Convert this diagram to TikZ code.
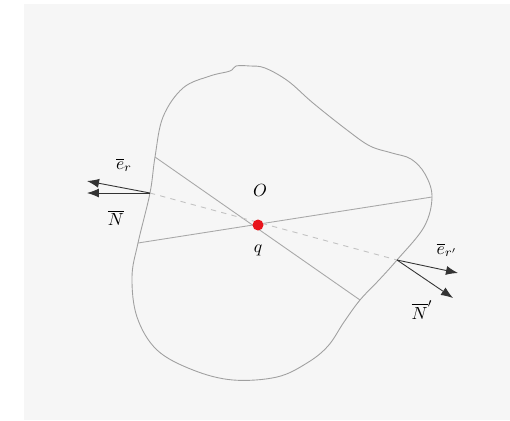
\documentclass[tikz,border=0pt]{standalone}
\usepackage{xcolor}
\usepackage{tikz}
\usetikzlibrary{arrows.meta,positioning}
\definecolor{bgray}{HTML}{F6F6F6}
\definecolor{edge}{HTML}{A0A0A0}
\definecolor{chord}{HTML}{A8A8A8}
\definecolor{vecc}{HTML}{333333}
\definecolor{charge}{HTML}{E8141B}

\begin{document}
\begin{tikzpicture}[
  x=0.02cm, y=-0.02cm,
  every node/.style={font=\normalsize},
  outline/.style={draw=edge, line width=0.5pt},
  chordline/.style={draw=chord, line width=0.5pt},
  dashline/.style={draw=chord!70, dashed, line width=0.5pt},
  vec/.style={-{Latex[length=2.4mm,width=1.8mm]}, vecc, line width=0.5pt},
  lab/.style={inner sep=1pt}
]
\useasboundingbox (0,0) rectangle (510,420);
\fill[bgray] (24,4) rectangle (510,420);

% ---- Points on the boundary ----
\coordinate (L1) at (155,157);
\coordinate (L2) at (150,193);
\coordinate (L3) at (138,243);
\coordinate (R1) at (432,197);
\coordinate (R2) at (397,260);
\coordinate (R3) at (360,300);

% ---- Boundary ----
\draw[outline] plot[smooth cycle, tension=0.6] coordinates {
  (230,71) (236,66) (250,66) (265,68) (288,81) (313,103) (347,130) (370,146)
  (392,153) (411,159) (425,174) (R1) (424,227) (R2) (379,280) (R3) (344,322)
  (328,346) (307,363) (277,377) (233,380) (193,370) (157,350) (137,317) (132,277)
  (L3) (L2) (L1) (163,117) (183,88) (210,76)};

% ---- Charge ----
\draw[chordline] (L1) -- (R3);
\draw[chordline] (L3) -- (R1);
\draw[dashline] (L2) -- (R2);
\node[circle, fill=charge, minimum size=0.22cm, inner sep=0pt] (q) at (258,225) {};
\node[lab] (O) at (260,190) {$O$};
\node[lab] (qlab) at (258,250) {$q$};

% ---- Left vectors ----
\coordinate (erL) at (87,181);
\coordinate (NL) at (87,193);
\draw[vec] (L2) -- (erL);
\draw[vec] (L2) -- (NL);
\node[lab] (erLlab) at (124,165) {$\overline{e}_r$};
\node[lab] (NLlab) at (116,218) {$\overline{N}$};

% ---- Right vectors ----
\coordinate (erR) at (458,273);
\coordinate (NR) at (453,298);
\draw[vec] (R2) -- (erR);
\draw[vec] (R2) -- (NR);
\node[lab] (erRlab) at (447,250) {$\overline{e}_{r'}$};
\node[lab] (NRlab) at (422,310) {$\overline{N}'$};

\end{tikzpicture}
\end{document}
